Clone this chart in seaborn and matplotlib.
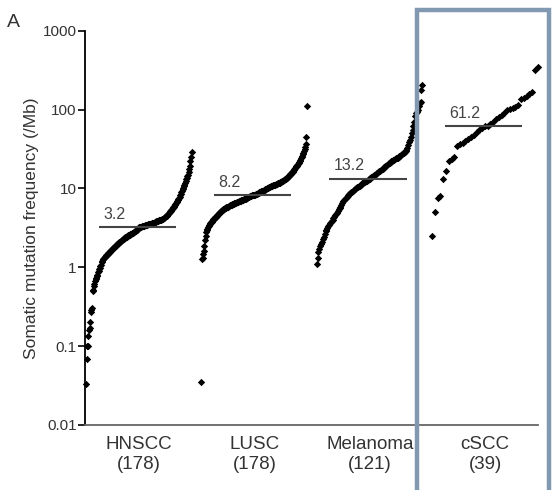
import numpy as np
import pandas as pd
import matplotlib
matplotlib.use("Agg")
import matplotlib.pyplot as plt
from matplotlib.patches import Rectangle
import seaborn as sns

# Somatic mutation frequency per tumour (mutations / Mb), sorted within each cohort
hnscc = [
    0.033, 0.068, 0.10, 0.10, 0.134, 0.16, 0.17, 0.20, 0.27, 0.29,
    0.30, 0.50, 0.52, 0.57, 0.62, 0.66, 0.70, 0.74, 0.77, 0.80,
    0.86, 0.90, 0.94, 0.98, 1.03, 1.08, 1.15, 1.2, 1.26, 1.28,
    1.3, 1.33, 1.36, 1.39, 1.42, 1.44, 1.47, 1.5, 1.52, 1.55,
    1.58, 1.61, 1.64, 1.67, 1.7, 1.73, 1.76, 1.79, 1.82, 1.85,
    1.88, 1.92, 1.95, 1.98, 2.02, 2.05, 2.08, 2.12, 2.15, 2.18,
    2.21, 2.24, 2.27, 2.3, 2.33, 2.37, 2.4, 2.42, 2.45, 2.48,
    2.5, 2.53, 2.56, 2.58, 2.61, 2.64, 2.67, 2.7, 2.73, 2.76,
    2.8, 2.84, 2.87, 2.9, 2.93, 2.97, 3.0, 3.05, 3.2, 3.2,
    3.22, 3.24, 3.26, 3.28, 3.3, 3.32, 3.34, 3.36, 3.38, 3.4,
    3.42, 3.44, 3.45, 3.47, 3.49, 3.5, 3.52, 3.54, 3.56, 3.58,
    3.6, 3.62, 3.64, 3.66, 3.69, 3.72, 3.75, 3.78, 3.81, 3.84,
    3.87, 3.9, 3.93, 3.96, 3.99, 4.0, 4.03, 4.06, 4.08, 4.1,
    4.2, 4.25, 4.3, 4.38, 4.45, 4.5, 4.6, 4.7, 4.8, 4.9,
    5.0, 5.1, 5.2, 5.3, 5.45, 5.6, 5.75, 5.9, 6.0, 6.15,
    6.3, 6.5, 6.7, 6.9, 7.1, 7.3, 7.6, 7.9, 8.2, 8.5,
    8.9, 9.3, 9.7, 10.2, 10.7, 11.2, 11.8, 12.4, 13.0, 13.6,
    14.3, 15, 16, 17.5, 19.5, 22, 25, 29,
]
lusc = [
    0.035, 1.26, 1.3, 1.46, 1.6, 1.85, 2.2, 2.5, 2.8, 2.95,
    3.05, 3.2, 3.3, 3.4, 3.5, 3.6, 3.7, 3.8, 3.9, 4.0,
    4.05, 4.1, 4.2, 4.3, 4.35, 4.4, 4.5, 4.6, 4.7, 4.8,
    4.9, 5.0, 5.05, 5.1, 5.2, 5.3, 5.35, 5.45, 5.55, 5.6,
    5.65, 5.7, 5.75, 5.8, 5.85, 5.9, 6.0, 6.05, 6.1, 6.15,
    6.2, 6.25, 6.3, 6.35, 6.4, 6.45, 6.5, 6.55, 6.6, 6.65,
    6.7, 6.75, 6.8, 6.85, 6.9, 6.95, 7.0, 7.05, 7.1, 7.15,
    7.2, 7.25, 7.3, 7.35, 7.4, 7.5, 7.55, 7.6, 7.7, 7.8,
    7.9, 7.95, 8.0, 8.05, 8.1, 8.15, 8.2, 8.2, 8.2, 8.25,
    8.3, 8.4, 8.5, 8.55, 8.6, 8.7, 8.8, 8.9, 9.0, 9.1,
    9.15, 9.2, 9.25, 9.3, 9.4, 9.5, 9.6, 9.7, 9.8, 9.9,
    10.0, 10.1, 10.2, 10.3, 10.4, 10.5, 10.6, 10.7, 10.8, 10.9,
    11.0, 11.05, 11.1, 11.15, 11.2, 11.3, 11.4, 11.5, 11.6, 11.7,
    11.8, 11.9, 12.0, 12.1, 12.2, 12.3, 12.4, 12.6, 12.8, 12.9,
    13.0, 13.1, 13.2, 13.4, 13.6, 13.9, 14.2, 14.5, 14.8, 15.1,
    15.4, 15.7, 16.0, 16.4, 16.8, 17.2, 17.6, 18.0, 18.5, 19.0,
    19.5, 20, 20.5, 21, 21.5, 22, 23, 24, 25, 26,
    27, 28.5, 30, 32, 34, 37, 45, 112,
]
melanoma = [
    1.1, 1.3, 1.55, 1.7, 1.85, 1.95, 2.1, 2.26, 2.45, 2.65,
    2.86, 3.0, 3.15, 3.3, 3.45, 3.6, 3.7, 3.85, 4.0, 4.2,
    4.4, 4.55, 4.7, 4.95, 5.2, 5.45, 5.7, 5.9, 6.2, 6.5,
    6.85, 7.2, 7.4, 7.6, 7.8, 8.0, 8.2, 8.45, 8.7, 8.9,
    9.1, 9.3, 9.5, 9.7, 9.9, 10.1, 10.3, 10.5, 10.7, 10.9,
    11.2, 11.4, 11.6, 11.8, 12.0, 12.2, 12.4, 12.6, 12.8, 13.0,
    13.2, 13.5, 13.8, 14.1, 14.4, 14.7, 15.0, 15.3, 15.6, 15.9,
    16.2, 16.5, 16.8, 17.2, 17.6, 17.9, 18.2, 18.6, 19.0, 19.4,
    19.8, 20.3, 20.8, 21.3, 21.7, 22.1, 22.5, 22.9, 23.3, 23.7,
    24.0, 24.3, 24.6, 25.0, 25.5, 26.0, 26.5, 27, 27.8, 28.5,
    29.3, 30, 31, 33, 36, 39, 41.5, 45, 50, 56,
    62, 70, 82, 90, 94, 100, 110, 122, 125, 178, 207,
]
cscc = [
    2.5, 5.0, 7.5, 8.1, 13, 16.5, 22, 23.5, 25, 35,
    36.5, 38, 40.5, 42, 45, 48, 52, 55, 58, 61.2,
    62, 65, 70, 76, 81, 86, 90, 98, 102, 105,
    109, 114, 135, 142, 148, 156, 170, 320, 345,
]

cohorts = ["HNSCC", "LUSC", "Melanoma", "cSCC"]
series = [hnscc, lusc, melanoma, cscc]
medians = [3.2, 8.2, 13.2, 61.2]
median_labels = ["3.2", "8.2", "13.2", "61.2"]

# Long-form table: each tumour placed by its rank inside the cohort's slot
rows = []
for g, (name, vals) in enumerate(zip(cohorts, series)):
    n = len(vals)
    for r, v in enumerate(sorted(vals)):
        rows.append({"cohort": name, "x": g + 0.915 * r / (n - 1), "freq": v})
df = pd.DataFrame(rows)

sns.set_style("white")
plt.rcParams["font.family"] = ["Liberation Sans", "DejaVu Sans"]
text_col = "#333333"

fig = plt.figure(figsize=(5.52, 4.90), dpi=100)
ax = fig.add_axes([0.154, 0.133, 0.821, 0.804])

sns.scatterplot(data=df, x="x", y="freq", marker="D", color="black",
                s=14, linewidth=0, ax=ax, clip_on=False, legend=False)

ax.set_yscale("log")
ax.set_ylim(0.01, 1000)
ax.set_xlim(-0.009, 3.92)

# Median bars with their values
for g, (m, lab) in enumerate(zip(medians, median_labels)):
    ax.plot([g + 0.11, g + 0.78], [m, m], color="#444444", lw=1.5,
            solid_capstyle="butt")
    ax.annotate(lab, xy=(g + 0.15, m), xytext=(0, 4), textcoords="offset points",
                ha="left", va="bottom", fontsize=11.5, color="#444444")

yticks = [0.01, 0.1, 1, 10, 100, 1000]
ax.set_yticks(yticks)
ax.set_yticklabels(["0.01", "0.1", "1", "10", "100", "1000"])
ax.yaxis.set_minor_locator(matplotlib.ticker.NullLocator())
ax.tick_params(axis="y", which="major", length=5, width=1.2, color="black",
               labelsize=11, labelcolor=text_col, left=True, pad=1)

ax.set_xticks([g + 0.46 for g in range(4)])
ax.set_xticklabels([f"{c}\n({len(s)})" for c, s in zip(cohorts, series)],
                   fontsize=13.5, color=text_col, linespacing=1.25)
ax.tick_params(axis="x", length=0, pad=8)

ax.set_xlabel("")
ax.set_ylabel("Somatic mutation frequency (/Mb)", fontsize=12.5, color=text_col,
              labelpad=3)

for side in ["top", "right"]:
    ax.spines[side].set_visible(False)
ax.spines["left"].set_color("black")
ax.spines["left"].set_linewidth(1.3)
ax.spines["bottom"].set_color("#666666")
ax.spines["bottom"].set_linewidth(1.3)

# Panel letter
fig.text(0.013, 0.972, "A", fontsize=14, color=text_col, ha="left", va="top")

# Highlight box around the cSCC cohort
fig.patches.append(Rectangle((0.756, -0.05), 0.238, 1.03, transform=fig.transFigure,
                             fill=False, edgecolor="#8198b1", linewidth=3.2,
                             zorder=5))

fig.savefig("out.png", dpi=100, facecolor="white")
